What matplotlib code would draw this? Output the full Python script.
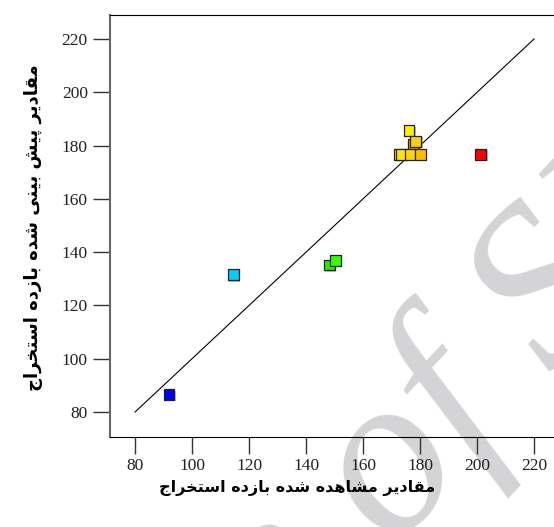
import matplotlib
matplotlib.use("Agg")
import matplotlib.pyplot as plt
import matplotlib.patheffects as pe

# مقادیر مشاهده شده و پیش بینی شده
observed = [91.9, 114.5, 148.2, 150.2, 176.1, 177.7, 178.5, 172.6, 173.6, 176.5, 180.2, 201.3]
predicted = [86.5, 131.5, 135.2, 136.8, 185.6, 180.6, 181.6, 176.7, 176.7, 176.7, 176.7, 176.7]
colors = ['#0000ff', '#00ccff', '#22ee00', '#33ff00', '#ffee00', '#e0b400', '#ffd000',
          '#ffee00', '#ffe600', '#ffd400', '#ffbb00', '#ff0000']
ticks = [80, 100, 120, 140, 160, 180, 200, 220]
xlabel = "مقادیر مشاهده شده بازده استخراج"
ylabel = "مقادیر پیش بینی شده بازده استخراج"

# فرم های نمایشی حروف: (منفرد، پایانی، آغازی، میانی)
FORMS = {
    'ا': ('\uFE8D', '\uFE8E', None, None),
    'د': ('\uFEA9', '\uFEAA', None, None),
    'ر': ('\uFEAD', '\uFEAE', None, None),
    'ز': ('\uFEAF', '\uFEB0', None, None),
    'ب': ('\uFE8F', '\uFE90', '\uFE91', '\uFE92'),
    'ت': ('\uFE95', '\uFE96', '\uFE97', '\uFE98'),
    'ج': ('\uFE9D', '\uFE9E', '\uFE9F', '\uFEA0'),
    'خ': ('\uFEA5', '\uFEA6', '\uFEA7', '\uFEA8'),
    'س': ('\uFEB1', '\uFEB2', '\uFEB3', '\uFEB4'),
    'ش': ('\uFEB5', '\uFEB6', '\uFEB7', '\uFEB8'),
    'ق': ('\uFED5', '\uFED6', '\uFED7', '\uFED8'),
    'م': ('\uFEE1', '\uFEE2', '\uFEE3', '\uFEE4'),
    'ن': ('\uFEE5', '\uFEE6', '\uFEE7', '\uFEE8'),
    'ه': ('\uFEE9', '\uFEEA', '\uFEEB', '\uFEEC'),
    'ی': ('\uFBFC', '\uFBFD', '\uFBFE', '\uFBFF'),
    'پ': ('\uFB56', '\uFB57', '\uFB58', '\uFB59'),
}


def farsi(s):
    out = []
    for i, c in enumerate(s):
        if c not in FORMS:
            out.append(c)
            continue
        prev = s[i - 1] if i > 0 else ' '
        nxt = s[i + 1] if i < len(s) - 1 else ' '
        jp = prev in FORMS and FORMS[prev][2] is not None
        jn = nxt in FORMS and FORMS[c][2] is not None
        f = FORMS[c]
        if jp and jn:
            out.append(f[3])
        elif jp:
            out.append(f[1])
        elif jn:
            out.append(f[2])
        else:
            out.append(f[0])
    return ''.join(out)[::-1]


fig = plt.figure(figsize=(5.54, 5.27), dpi=100)

# واترمارک
wm = dict(fontsize=165, family="Liberation Serif", style="italic", weight="normal",
          color="#d4d4d6", rotation=47, rotation_mode="anchor", va="baseline", zorder=-1)
fig.text(0.71, -0.045, "of SID", ha="left", **wm)
fig.text(0.71, -0.045, "Archive ", ha="right", **wm)

ax = fig.add_axes([0.1986, 0.1708, 0.8014, 0.8007])
ax.patch.set_alpha(0)

ax.plot([80, 220], [80, 220], color='black', lw=0.8, zorder=2)
sc = ax.scatter(observed, predicted, c=colors, marker='s', s=60,
                edgecolors='#222222', linewidths=0.9, zorder=3)
sc.set_path_effects([pe.SimplePatchShadow(offset=(1, -1), shadow_rgbFace='gray', alpha=0.5),
                     pe.Normal()])

ax.set_xlim(71.2, 227.0)
ax.set_ylim(70.6, 229.0)
ax.set_xticks(ticks)
ax.set_yticks(ticks)
ax.spines['right'].set_visible(False)
ax.spines['left'].set_color('#666666')
ax.spines['left'].set_linewidth(1.5)
ax.tick_params(direction='out', length=12, width=1, colors='#333333', pad=4,
               labelsize=12.5, labelcolor='#222222')
ax.tick_params(axis='x', pad=3)
for lab in ax.get_xticklabels() + ax.get_yticklabels():
    lab.set_family('Liberation Serif')

fig.text(0.537, 0.074, farsi(xlabel), fontsize=11.5, weight='bold',
         family='DejaVu Sans', ha='center', va='center')
fig.text(0.0596, 0.569, farsi(ylabel), fontsize=13, weight='bold',
         family='DejaVu Sans', ha='center', va='center', rotation=90)

fig.savefig("out.png", dpi=100)
